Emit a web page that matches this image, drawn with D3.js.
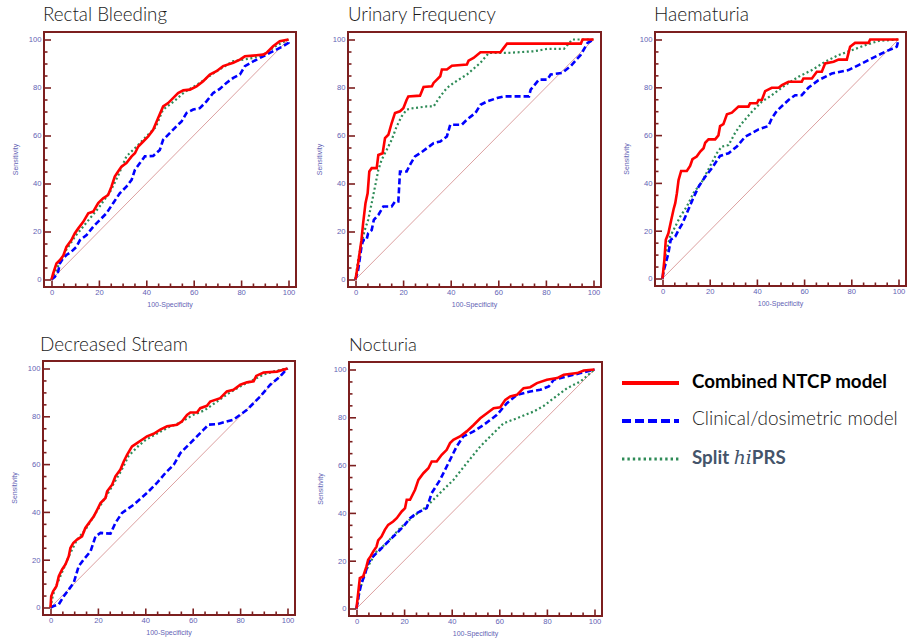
<!DOCTYPE html>
<html>
<head>
<meta charset="utf-8">
<script src="https://cdn.jsdelivr.net/npm/d3@7"></script>
<style>
  html, body { margin: 0; padding: 0; background: #fff; }
  svg { display: block; }
</style>
</head>
<body>
<svg id="chart" width="907" height="643"></svg>
<script>
// ROC curves: [100-Specificity, Sensitivity] pairs (percent)
const categories = ["Rectal Bleeding", "Urinary Frequency", "Haematuria", "Decreased Stream", "Nocturia"];
const seriesNames = ["Combined NTCP model", "Clinical/dosimetric model", "Split hiPRS"];
const tickValues = [0, 20, 40, 60, 80, 100];
const minorTickValues = [5, 10, 15, 25, 30, 35, 45, 50, 55, 65, 70, 75, 85, 90, 95];

const rectalCombined = [[0,0],[0.7,2.5],[2.1,6.7],[3.5,8],[5,10],[6.3,13.6],[8.4,16.4],[9.8,19.2],[11.3,21.3],[13.4,24],[15.5,27.6],[17.6,28.3],[19.7,31.8],[21.8,33.8],[23.9,35.2],[25.3,38.7],[26.7,42.9],[28.1,45],[29.5,47],[31.6,48.5],[33.8,51.3],[35.2,52.6],[36.6,55.4],[38.7,57.5],[40.8,59.6],[42.9,62.4],[45,67.3],[47.1,72.1],[49.2,73.5],[51.3,75.6],[53.4,77.7],[55.6,78.8],[58.4,79.1],[61.2,80.5],[64,82.6],[66.8,85.4],[69.6,86.8],[72.4,88.9],[76.7,90.3],[79.5,91.6],[81.6,93],[85.1,93.3],[89.3,93.7],[90.7,94.4],[93.5,97.2],[96.3,99.3],[100,100]];
const rectalClinical = [[0,0],[1.4,1.1],[2.8,3.2],[3.5,6.7],[4.9,8.8],[6.3,10.2],[8.4,11.6],[10.5,13.6],[12,16.4],[14.8,18.5],[17.6,22],[20.4,24.8],[23.2,27.6],[26,31.8],[28.8,35.9],[31.6,38.7],[33.8,41.5],[35.2,45.7],[37.3,48.5],[39.4,51.3],[42.9,51.5],[45.7,54],[47.1,58.2],[49.9,61],[52.7,63.8],[54.9,65.9],[57,69.4],[59.8,70.8],[62.6,71.4],[65.4,74.2],[68.2,77.7],[71,79.4],[73.8,81.9],[76.7,84],[79.5,85.4],[81.6,88.9],[85.1,90.9],[89.3,93],[92.1,94.4],[94.9,95.8],[97.7,97.2],[100,98.6],[100,100]];
const rectalPrs = [[0,0],[3,6],[6,12],[10,18],[15,24],[20,30],[25,37],[28,43],[31.6,51.3],[36,55.5],[40,59.6],[44,63.5],[47,70.7],[52,74.5],[56,78],[62.6,81.9],[67,85],[70,87],[76.7,91],[80,91.5],[85,92.3],[90,94],[95,97.5],[100,100]];

const urinaryCombined = [[0,0],[1.1,6.7],[2.5,16.4],[3.2,23.4],[4.2,31.8],[5.1,35.9],[5.8,45],[6.8,46.4],[8.9,46.4],[9.6,51.9],[11.4,52.6],[12.4,58.9],[13.8,60.3],[15.2,65.2],[16.6,69.4],[18.7,70.1],[20.1,71.4],[21.5,74.9],[22.2,76.3],[27.1,76.6],[28.6,80.2],[32.1,80.5],[32.8,81.9],[34.2,83.3],[35.6,84.7],[36.3,87.5],[38.4,87.5],[40.5,89.1],[46.8,89.6],[47.5,91.2],[49.6,92.3],[52.5,94.7],[60.9,94.7],[62.3,96.5],[63.7,98.3],[94.7,98.3],[95.4,100],[100,100]];
const urinaryClinical = [[0,0],[1.1,3.9],[2.5,13.6],[3.2,16.4],[4.6,16.4],[5.3,19.2],[6.8,20.6],[7.7,24.8],[9.6,26.9],[11.7,30.4],[15.2,30.4],[16.6,32.5],[18,32.5],[18.7,45],[21.5,45],[22.9,47.8],[25,51.3],[27.1,52.6],[30,54.7],[32.8,56.8],[35.6,57.5],[38.4,59.6],[39.8,64.5],[44.7,64.5],[46.8,66.6],[50.4,69.4],[52.5,72.8],[55.3,74.2],[59.5,75.6],[62.3,76.3],[72.9,76.3],[73.6,79.1],[77.1,83.3],[80.6,83.3],[82,85.4],[86.9,86.1],[90.4,88.9],[94.7,93.7],[97.5,98.6],[100,100]];
const urinaryPrs = [[0,0],[1.1,8.1],[2.5,15],[3.9,20.6],[5.3,24.8],[6.8,31.8],[8.2,38.7],[9.6,45.7],[11,49.9],[13.1,54],[15.2,58.2],[17.3,63.8],[19.4,68],[21.5,70.8],[24.3,71.4],[30,72.1],[32.8,72.1],[35.6,76.3],[38.4,79.8],[41.2,81.9],[46.8,85.4],[52.5,90.3],[56,94.4],[63.7,94.4],[75,95.1],[80.6,96.1],[87.6,96.1],[91.1,100],[100,100]];

const haemCombined = [[0,0],[0.8,7.8],[1.4,16.2],[2.5,18.9],[3.7,24.5],[4.7,29],[5.4,31.5],[6.1,35.7],[6.8,41.2],[7.9,45],[10.3,45],[11.7,47.1],[12.7,49.9],[14.5,51],[16,53.1],[17.4,54.5],[18.1,56.8],[19.5,58.2],[22.3,58.2],[23.7,59.9],[24.4,63.8],[25.8,64.6],[27.3,68.7],[29.4,69.4],[32.2,71.9],[36.4,71.9],[37.1,73.3],[40,73.3],[40.7,74.7],[42.1,74.7],[43.5,78.4],[46.3,79.8],[49.2,79.8],[50.6,80.9],[53.4,82.3],[59,82.3],[59.7,83.7],[63.3,83.7],[65.4,86.5],[67.5,86.5],[68.9,90],[72.5,90.7],[74.6,91.6],[78.1,91.6],[79.5,97],[81.6,98.6],[87.3,98.6],[88,100],[100,100]];
const haemClinical = [[0,0],[0.4,2.9],[1.4,6.4],[2.5,10.6],[3.5,16.2],[5.4,17.5],[6.8,20.3],[8.5,23.1],[10.3,27.3],[12.7,32.9],[15.3,38.4],[18.1,42.6],[20.9,46.1],[24.4,51.3],[28,52.4],[31.5,55.2],[35,59.3],[40.7,62.4],[44.9,63.8],[46.3,67],[48.4,70.1],[53.4,74.7],[56.2,76.7],[59,76.7],[61.9,79.9],[66.1,83],[71.8,85.8],[78.8,87.2],[83.1,89.3],[88.7,92.1],[94.4,94.9],[99.3,97],[100,100]];
const haemPrs = [[0,0],[1.4,10.6],[3.2,17.5],[5.4,21.7],[7.5,25.9],[10.3,30.1],[13.1,35.7],[16.7,40.5],[20.2,47.1],[23,52.4],[25.1,55.2],[28,55.8],[30.8,61],[33.6,64.9],[37.9,69.8],[42.1,74],[46.3,76.7],[52,80.9],[57.6,84.4],[63.3,87.2],[68.9,90.7],[74.6,93.5],[80.2,95.5],[85.9,97.6],[91.5,99.4],[100,100]];

const streamCombined = [[0,0],[0.3,4.7],[1.1,6.8],[2.5,8.9],[3.5,13.1],[4.9,15.9],[6.3,18],[7.7,21.4],[8.4,24.9],[9.6,27],[11.2,28.4],[13.3,29.8],[14.7,33.3],[16.2,35.4],[18.3,38.2],[19.7,40.9],[21.1,43.7],[23.2,45.8],[23.9,48.6],[26,51.4],[27.4,54.9],[29.5,57.7],[30.9,61.1],[32.3,63.9],[34.4,67.4],[36.5,68.8],[38.6,70.2],[40.7,71.6],[43.5,72.7],[46.3,74.4],[49.2,75.8],[53.4,76.5],[55.5,77.9],[57.6,80.6],[59,81.6],[61.8,81.6],[63.2,83.4],[66,84.4],[67.4,86.2],[71.6,87.6],[74.4,90.4],[77.2,91.1],[80.1,93.2],[82.9,94.2],[85.7,94.6],[86.8,96.9],[89.9,98.3],[95.5,98.7],[100,100]];
const streamClinical = [[0,0],[1.4,0.6],[3.5,1.3],[5.6,4.7],[7.7,7.5],[9.8,10.3],[11.9,17.3],[14,20.1],[16.9,23.5],[19,29.8],[21.1,31.2],[25.3,30.9],[27.4,35.4],[30.2,39.6],[35.1,43],[40.7,47.9],[44.9,52.1],[48.5,56.3],[52,59.7],[54.8,64.6],[59,68.8],[61.8,71.6],[64.6,74.4],[66.7,76.5],[70.2,76.7],[77.2,78.6],[82.9,82.7],[88.5,88.3],[92.7,93.2],[96.9,96.7],[100,100]];
const streamPrs = [[0,0],[1,5],[2,8],[5,15],[8,22],[11,28],[15,33],[20,41],[25,49],[30,57.5],[33,63.5],[37,67.5],[40,70],[45,72.8],[50,75.5],[55,77.5],[60,80.5],[65,82.5],[70,86],[75,89.5],[80,92.5],[85,95],[90,97.5],[95,99],[100,100]];

const nocturiaCombined = [[0,0],[0.7,6.4],[1.4,12.7],[2.8,13.4],[3.5,15.5],[4.2,17.6],[4.9,20.4],[5.9,21.8],[7,23.8],[8.4,25.9],[9.1,28.5],[10.5,30.1],[11.9,32.9],[13.3,35],[15.4,36.4],[16.9,37.8],[19,40.6],[20.4,42],[21.1,45.5],[22.5,45.5],[24.6,49.7],[26,53.8],[28.1,56.6],[30.2,58.7],[31.6,61.5],[33.7,61.5],[35.8,64.3],[37.9,66.4],[39.3,69.2],[40.7,70.6],[43.5,72],[46.3,74.1],[49.2,76.8],[52,79.6],[54.8,81.7],[57.6,83.8],[60.4,84.2],[62.5,87.3],[64.6,88.7],[67.4,89.4],[70.2,92.2],[73,92.6],[75.8,94.3],[80,95.7],[84.3,96.4],[87.1,97.8],[92.7,98.5],[95.5,99.6],[100,100]];
const nocturiaClinical = [[0,0],[1.1,6.4],[2.1,10.6],[3.5,14.1],[4.9,19],[7,21.8],[9.8,24.5],[13.3,28],[16.9,31.5],[19.7,34.3],[22.5,37.8],[25.3,39.9],[29.5,42],[31.6,48.3],[35.1,53.8],[38.6,60.8],[42.1,67.8],[44.9,72],[49.2,74.1],[53.4,76.8],[59,81],[63.2,85.9],[67.4,89.4],[73,90.8],[77.2,91.5],[80.8,92.9],[82.9,95.7],[88.5,97.1],[94.1,98.5],[100,100]];
const nocturiaPrs = [[0,0],[1.4,7.8],[3.5,14.8],[5.6,19],[8.4,23.8],[12.6,27.3],[18.3,33.6],[23.9,38.5],[29.5,42.7],[35.1,48.3],[40.7,53.8],[46.3,60.8],[52,67.8],[57.6,73.4],[61.8,77.5],[67.4,79.6],[74.4,82.4],[78.7,84.8],[82.9,88],[88.5,92.2],[94.1,95],[100,100]];

const panelSeries = [
  [rectalCombined, rectalClinical, rectalPrs],
  [urinaryCombined, urinaryClinical, urinaryPrs],
  [haemCombined, haemClinical, haemPrs],
  [streamCombined, streamClinical, streamPrs],
  [nocturiaCombined, nocturiaClinical, nocturiaPrs]
];

// ---- layout & styling ----
const frames = [
  { x: 44,  y: 32,  w: 252, h: 255, tx: 43,  ty: 21,  tw: 124 },
  { x: 348, y: 32,  w: 253, h: 255, tx: 348, ty: 21,  tw: 148 },
  { x: 655, y: 32,  w: 251, h: 254, tx: 654, ty: 21,  tw: 95 },
  { x: 43,  y: 361, w: 252, h: 254, tx: 40,  ty: 351, tw: 148 },
  { x: 349, y: 362, w: 253, h: 254, tx: 349, ty: 351, tw: 68 }
];
const pad = 7.5;
const frameColor = "#7c1f1f";
const labelColor = "#6262b4";
const seriesStyle = [
  { color: "#ff0000", width: 2.6, dash: null },
  { color: "#0000ff", width: 2.6, dash: "6,3" },
  { color: "#2e8b57", width: 2.2, dash: "2,2.6" }
];
const drawOrder = [2, 1, 0];

const svg = d3.select("#chart");

function fitWidth(sel, target) {
  const len = sel.node().getComputedTextLength();
  const fs = parseFloat(sel.attr("font-size"));
  sel.attr("font-size", (fs * target / len).toFixed(2));
}

categories.forEach((name, i) => {
  const f = frames[i];
  const x = d3.scaleLinear().domain([0, 100]).range([f.x + pad, f.x + f.w - pad]);
  const y = d3.scaleLinear().domain([0, 100]).range([f.y + f.h - pad, f.y + pad]);
  const g = svg.append("g");

  // title
  const t = g.append("text")
    .attr("x", f.tx).attr("y", f.ty)
    .attr("font-family", "Lato, 'Open Sans', sans-serif")
    .attr("font-weight", 300)
    .attr("font-size", 20)
    .attr("fill", "#1a1a1a")
    .text(name);
  fitWidth(t, f.tw);

  // reference diagonal
  g.append("line")
    .attr("x1", x(0)).attr("y1", y(0)).attr("x2", x(100)).attr("y2", y(100))
    .attr("stroke", "#dca0a0").attr("stroke-width", 1);

  // ROC curves
  const line = d3.line().x(d => x(d[0])).y(d => y(d[1]));
  drawOrder.forEach(k => {
    const s = seriesStyle[k];
    g.append("path")
      .datum(panelSeries[i][k])
      .attr("d", line)
      .attr("fill", "none")
      .attr("stroke", s.color)
      .attr("stroke-width", s.width)
      .attr("stroke-linejoin", "miter")
      .attr("stroke-dasharray", s.dash);
  });

  // inward ticks on left edge
  const tickStyle = sel => {
    sel.select(".domain").remove();
    sel.selectAll(".tick line").attr("stroke", frameColor).attr("stroke-width", 1.6);
    sel.selectAll(".tick text").remove();
  };
  g.append("g").attr("transform", `translate(${f.x},0)`)
    .call(d3.axisRight(y).tickValues(tickValues).tickSize(7)).call(tickStyle);
  g.append("g").attr("transform", `translate(${f.x},0)`)
    .call(d3.axisRight(y).tickValues(minorTickValues).tickSize(3.5)).call(tickStyle);
  // inward ticks on bottom edge
  g.append("g").attr("transform", `translate(0,${f.y + f.h})`)
    .call(d3.axisTop(x).tickValues(tickValues).tickSize(6.5)).call(tickStyle);
  g.append("g").attr("transform", `translate(0,${f.y + f.h})`)
    .call(d3.axisTop(x).tickValues(minorTickValues).tickSize(3.5)).call(tickStyle);

  // tick labels
  const labelStyle = sel => {
    sel.select(".domain").remove();
    sel.selectAll(".tick line").remove();
    sel.selectAll(".tick text")
      .attr("fill", labelColor)
      .attr("font-family", "'Liberation Sans', Arial, sans-serif")
      .attr("font-size", 7.6);
  };
  g.append("g").attr("transform", `translate(${f.x},0)`)
    .call(d3.axisLeft(y).tickValues(tickValues).tickSize(0).tickPadding(2.5)).call(labelStyle);
  g.append("g").attr("transform", `translate(0,${f.y + f.h})`)
    .call(d3.axisBottom(x).tickValues(tickValues).tickSize(0).tickPadding(3)).call(labelStyle);

  // frame
  g.append("rect")
    .attr("x", f.x).attr("y", f.y).attr("width", f.w).attr("height", f.h)
    .attr("fill", "none").attr("stroke", frameColor).attr("stroke-width", 2);

  // axis titles
  g.append("text")
    .attr("transform", `translate(${f.x - 26},${(y(0) + y(100)) / 2}) rotate(-90)`)
    .attr("text-anchor", "middle")
    .attr("fill", labelColor)
    .attr("font-family", "'Liberation Sans', Arial, sans-serif")
    .attr("font-size", 7)
    .text("Sensitivity");
  g.append("text")
    .attr("x", (x(0) + x(100)) / 2).attr("y", f.y + f.h + 20)
    .attr("text-anchor", "middle")
    .attr("fill", labelColor)
    .attr("font-family", "'Liberation Sans', Arial, sans-serif")
    .attr("font-size", 7)
    .text("100-Specificity");
});

// ---- legend ----
const legendRows = [
  { y: 383, ty: 387.5, tw: 195 },
  { y: 421, ty: 424.5, tw: 206 },
  { y: 459, ty: 464,   tw: 91 }
];
const lg = svg.append("g");
const legendDash = [null, "9,4", "2.4,3"];
const legendWidth = [4, 4, 3];
seriesNames.forEach((n, k) => {
  const r = legendRows[k];
  lg.append("line")
    .attr("x1", 622).attr("x2", 679).attr("y1", r.y).attr("y2", r.y)
    .attr("stroke", seriesStyle[k].color)
    .attr("stroke-width", legendWidth[k])
    .attr("stroke-dasharray", legendDash[k]);
});
const l0 = lg.append("text").attr("x", 692).attr("y", legendRows[0].ty)
  .attr("font-family", "Lato, 'Open Sans', sans-serif").attr("font-weight", "bold")
  .attr("font-size", 18).attr("fill", "#000").text(seriesNames[0]);
fitWidth(l0, legendRows[0].tw);
const l1 = lg.append("text").attr("x", 692).attr("y", legendRows[1].ty)
  .attr("font-family", "Lato, 'Open Sans', sans-serif")
  .attr("font-weight", 300)
  .attr("font-size", 18).attr("fill", "#222").text(seriesNames[1]);
fitWidth(l1, legendRows[1].tw);
const l2 = lg.append("text").attr("x", 692).attr("y", legendRows[2].ty)
  .attr("font-family", "Lato, 'Open Sans', sans-serif")
  .attr("font-size", l0.attr("font-size")).attr("fill", "#44546a");
l2.append("tspan").attr("font-weight", "bold").text("Split ");
l2.append("tspan").attr("font-family", "'DejaVu Serif', 'Liberation Serif', serif")
  .attr("font-style", "italic").attr("font-weight", "normal").text("hi");
l2.append("tspan").attr("font-weight", "bold").text("PRS");
</script>
</body>
</html>
